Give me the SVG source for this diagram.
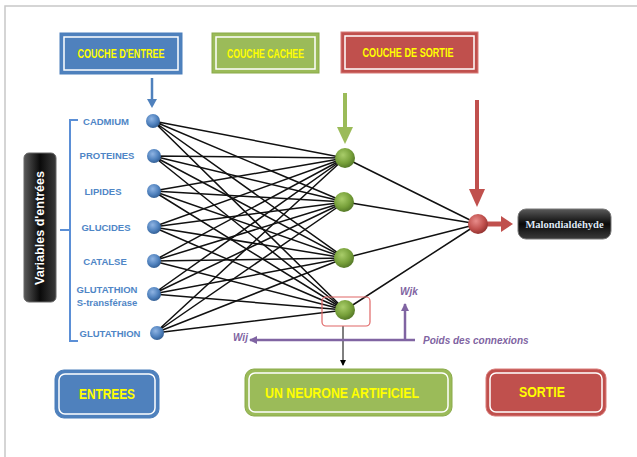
<svg xmlns="http://www.w3.org/2000/svg" width="637" height="457" viewBox="0 0 637 457">
<defs>
<radialGradient id="gb" cx="0.4" cy="0.35" r="0.7"><stop offset="0" stop-color="#8fb4e3"/><stop offset="0.6" stop-color="#4f81bd"/><stop offset="1" stop-color="#2f5a8f"/></radialGradient>
<radialGradient id="gg" cx="0.4" cy="0.35" r="0.7"><stop offset="0" stop-color="#a9cd6a"/><stop offset="0.6" stop-color="#77a03a"/><stop offset="1" stop-color="#4f7224"/></radialGradient>
<radialGradient id="gr" cx="0.4" cy="0.35" r="0.7"><stop offset="0" stop-color="#e88c8a"/><stop offset="0.6" stop-color="#c0504d"/><stop offset="1" stop-color="#8c2e2c"/></radialGradient>
<linearGradient id="gd" x1="0" y1="0" x2="0" y2="1"><stop offset="0" stop-color="#5a5a5a"/><stop offset="0.5" stop-color="#0a0a0a"/><stop offset="1" stop-color="#3a3a3a"/></linearGradient>
<linearGradient id="gv" x1="0" y1="0" x2="1" y2="0"><stop offset="0" stop-color="#5a5a5a"/><stop offset="0.5" stop-color="#0a0a0a"/><stop offset="1" stop-color="#3a3a3a"/></linearGradient>
<marker id="mp" markerWidth="8" markerHeight="8" refX="7" refY="4" orient="auto" markerUnits="userSpaceOnUse"><path d="M0,0 L8,4 L0,8 z" fill="#8064a2"/></marker>
<marker id="mk" markerWidth="6" markerHeight="6" refX="5" refY="3" orient="auto" markerUnits="userSpaceOnUse"><path d="M0,0 L6,3 L0,6 z" fill="#000"/></marker>
</defs>
<style>
.lbl{font-family:"Liberation Sans",Arial,sans-serif;font-weight:bold;fill:#ffff00;font-size:12px;text-anchor:middle}
.big{font-size:14px}
.in{font-family:"Liberation Sans",Arial,sans-serif;font-weight:bold;fill:#4f86c6;font-size:9.5px;text-anchor:middle}
.pur{font-family:"Liberation Sans",Arial,sans-serif;font-weight:bold;font-style:italic;fill:#8064a2;font-size:10px}
.c{stroke:#111;stroke-width:1.5;fill:none}
</style>
<rect width="637" height="457" fill="#fff"/>
<path d="M5,457 V6 H637" fill="none" stroke="#c8c8c8" stroke-width="1.5"/>

<g id="couche-entree"><rect x="60" y="33" width="122" height="41" fill="#4f81bd" stroke="#4a7ebb"/><rect x="64" y="37" width="114" height="33" fill="none" stroke="#fff" stroke-width="1.5"/><text class="lbl" x="121" y="58" textLength="87" lengthAdjust="spacingAndGlyphs">COUCHE D'ENTREE</text></g>
<g id="couche-cachee"><rect x="212" y="33" width="107" height="40" fill="#9bbb59" stroke="#8aaa4a"/><rect x="216" y="37" width="99" height="32" fill="none" stroke="#fff" stroke-width="1.5"/><text class="lbl" x="265.5" y="58" textLength="77" lengthAdjust="spacingAndGlyphs">COUCHE CACHEE</text></g>
<g id="couche-sortie"><rect x="341" y="32" width="137" height="41" fill="#c0504d" stroke="#d87a78"/><rect x="345" y="36" width="129" height="33" fill="none" stroke="#fff" stroke-width="1.5"/><text class="lbl" x="408" y="57" textLength="91" lengthAdjust="spacingAndGlyphs">COUCHE DE SORTIE</text></g>

<g id="arrows-layers">
<line x1="152" y1="78" x2="152" y2="100" stroke="#4f81bd" stroke-width="2.5"/><path d="M147,99 L157,99 L152,108 z" fill="#4f81bd"/>
<line x1="345" y1="93" x2="345" y2="128" stroke="#9bbb59" stroke-width="4"/><path d="M337,127 L353,127 L345,144 z" fill="#9bbb59"/>
<line x1="477" y1="100" x2="477" y2="190" stroke="#c0504d" stroke-width="4"/><path d="M469,189 L485,189 L477,207 z" fill="#c0504d"/>
<line x1="487" y1="224" x2="503" y2="224" stroke="#c0504d" stroke-width="5"/><path d="M501,216 L513,224 L501,232 z" fill="#c0504d"/>
</g>

<g id="connectors">
<g class="c">
<path d="M153,121 L345,158 M153,121 L345,202 M153,121 L345,258 M153,121 L345,310"/>
<path d="M153,156 L345,158 M153,156 L345,202 M153,156 L345,258 M153,156 L345,310"/>
<path d="M153,191 L345,158 M153,191 L345,202 M153,191 L345,258 M153,191 L345,310"/>
<path d="M153,227 L345,158 M153,227 L345,202 M153,227 L345,258 M153,227 L345,310"/>
<path d="M153,261 L345,158 M153,261 L345,202 M153,261 L345,258 M153,261 L345,310"/>
<path d="M153,294 L345,158 M153,294 L345,202 M153,294 L345,258 M153,294 L345,310"/>
<path d="M155,333 L345,158 M155,333 L345,202 M155,333 L345,258 M155,333 L345,310"/>
<path d="M345,158 L478,224 M345,202 L478,224 M345,258 L478,224 M345,310 L478,224"/>
</g>
<line x1="343" y1="326" x2="343" y2="365" stroke="#000" stroke-width="1" marker-end="url(#mk)"/>
<line x1="415" y1="340" x2="250" y2="340" stroke="#8064a2" stroke-width="2.5" marker-end="url(#mp)"/>
<line x1="405" y1="340" x2="405" y2="304" stroke="#8064a2" stroke-width="2.5" marker-end="url(#mp)"/>
</g>

<g id="bracket" fill="none" stroke="#5b8fd6" stroke-width="2">
<path d="M78,120 H70 V341 H78"/><path d="M70,230 H60"/>
</g>
<g id="variables"><rect x="24" y="153" width="32" height="149" rx="5" fill="url(#gv)" stroke="#666"/><text transform="translate(44,228) rotate(-90)" font-family="Liberation Sans,Arial,sans-serif" font-weight="bold" font-size="12" fill="#fff" text-anchor="middle" textLength="114" lengthAdjust="spacingAndGlyphs">Variables d'entrées</text></g>

<g id="in-cadmium"><text class="in" x="106" y="125">CADMIUM</text><circle cx="153" cy="121" r="7" fill="url(#gb)"/></g>
<g id="in-proteines"><text class="in" x="107" y="159">PROTEINES</text><circle cx="154" cy="156" r="7" fill="url(#gb)"/></g>
<g id="in-lipides"><text class="in" x="103" y="195">LIPIDES</text><circle cx="154" cy="191" r="7" fill="url(#gb)"/></g>
<g id="in-glucides"><text class="in" x="106" y="231">GLUCIDES</text><circle cx="154" cy="227" r="7" fill="url(#gb)"/></g>
<g id="in-catalse"><text class="in" x="105" y="265">CATALSE</text><circle cx="154" cy="261" r="7" fill="url(#gb)"/></g>
<g id="in-gst"><text class="in" x="107" y="293">GLUTATHION</text><text class="in" x="107" y="306" font-size="9">S-transférase</text><circle cx="154" cy="294" r="7" fill="url(#gb)"/></g>
<g id="in-glutathion"><text class="in" x="110" y="337">GLUTATHION</text><circle cx="157" cy="333" r="7" fill="url(#gb)"/></g>

<g id="h1"><circle cx="345" cy="158" r="10" fill="url(#gg)"/></g>
<g id="h2"><circle cx="344" cy="202" r="10" fill="url(#gg)"/></g>
<g id="h3"><circle cx="344" cy="258" r="10" fill="url(#gg)"/></g>
<g id="h4"><rect x="322" y="297" width="48" height="29" rx="4" fill="none" stroke="#e06666" stroke-width="1.2"/><circle cx="345" cy="310" r="10" fill="url(#gg)"/></g>

<g id="out"><circle cx="478" cy="224" r="10" fill="url(#gr)"/></g>
<g id="malondialdehyde"><rect x="518" y="209" width="93" height="30" rx="8" fill="url(#gd)" stroke="#777"/><text x="564.5" y="228" font-family="Liberation Serif,Times New Roman,serif" font-weight="bold" font-size="10.5" fill="#dfe8f5" text-anchor="middle">Malondialdéhyde</text></g>

<g id="weights"><text class="pur" x="233" y="341">Wij</text><text class="pur" x="400" y="295">Wjk</text><text class="pur" x="423" y="344">Poids des connexions</text></g>

<g id="entrees"><rect x="55" y="370" width="104" height="48" rx="9" fill="#4f81bd" stroke="#4a7ebb"/><rect x="59" y="374" width="96" height="40" rx="6" fill="none" stroke="#fff" stroke-width="1.5"/><text class="lbl big" x="107" y="399" textLength="56" lengthAdjust="spacingAndGlyphs">ENTREES</text></g>
<g id="neurone"><rect x="245" y="369" width="207" height="47" rx="9" fill="#9bbb59" stroke="#8aaa4a"/><rect x="249" y="373" width="199" height="39" rx="6" fill="none" stroke="#fff" stroke-width="1.5"/><text class="lbl big" x="342" y="398" textLength="154" lengthAdjust="spacingAndGlyphs">UN NEURONE ARTIFICIEL</text></g>
<g id="sortie"><rect x="486" y="369" width="120" height="47" rx="9" fill="#c0504d" stroke="#d87a78"/><rect x="490" y="373" width="112" height="39" rx="6" fill="none" stroke="#fff" stroke-width="1.5"/><text class="lbl big" x="542" y="397" textLength="46" lengthAdjust="spacingAndGlyphs">SORTIE</text></g>
</svg>
